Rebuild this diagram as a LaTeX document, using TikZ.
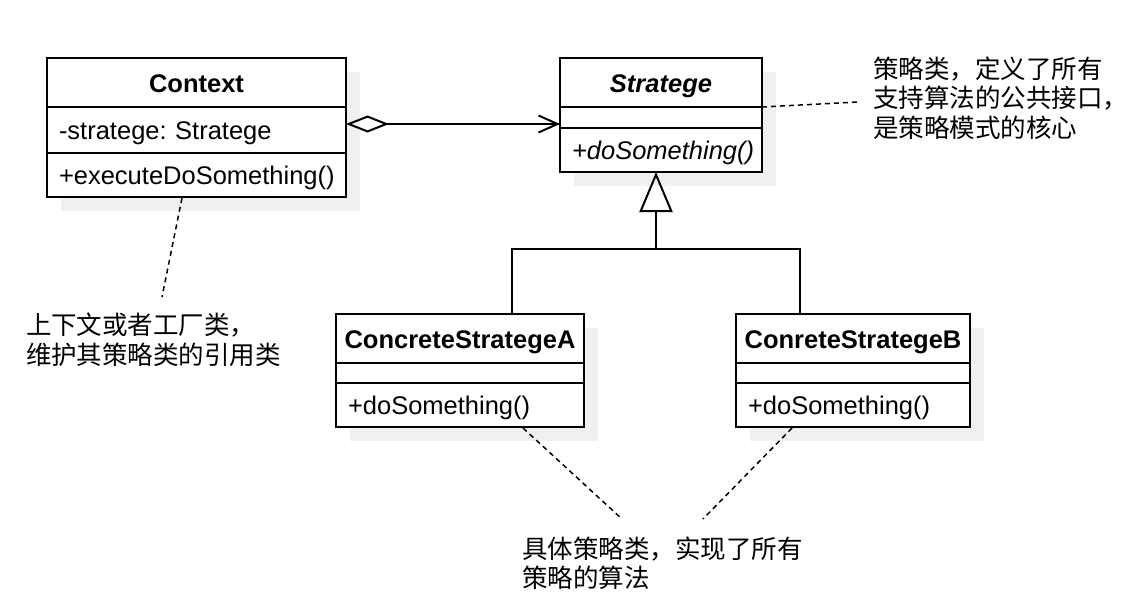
\documentclass[tikz,border=0pt]{standalone}
\usepackage{fontspec}
\setmainfont{Liberation Sans}
\newfontfamily\cjk{Noto Sans CJK SC}
\usetikzlibrary{arrows.meta}
\newcommand\fs{\fontsize{25.5pt}{29.5pt}\selectfont}
\frenchspacing
\begin{document}
\begin{tikzpicture}[x=1pt,y=-1pt,
  every node/.style={inner sep=0pt, outer sep=0pt},
  cell/.style={draw, line width=2pt, fill=white, anchor=north west, font=\fs},
  tcell/.style={cell, text height=25pt, text depth=5pt},
  lcell/.style={cell, align=left, inner xsep=12pt, text height=24pt, text depth=5pt},
  shadowbox/.style={fill=black!6},
  uml/.style={line width=2pt},
  notelink/.style={line width=1.5pt, dash pattern=on 5pt off 4pt},
  note/.style={font=\fs\cjk, align=left, anchor=west}]
\useasboundingbox (0,0) rectangle (1136,616);
% shadows
\fill[shadowbox] (61,72) rectangle (360,211);
\fill[shadowbox] (574,72) rectangle (776,186);
\fill[shadowbox] (350,328) rectangle (598,441);
\fill[shadowbox] (750,328) rectangle (984,441);
% Context
\node[tcell, minimum width=299pt, minimum height=49pt] (ctxT) at (47,58) {\bfseries Context};
\node[lcell, text width=275pt, minimum height=46pt] (ctxA) at (47,107) {-stratege: Stratege};
\node[lcell, text width=275pt, minimum height=44pt] (ctxM) at (47,153) {+executeDoSomething()};
% Stratege
\node[tcell, minimum width=202pt, minimum height=49pt] (stT) at (560,58) {\bfseries\itshape Stratege};
\node[cell, minimum width=202pt, minimum height=21pt] (stA) at (560,107) {};
\node[lcell, text width=178pt, minimum height=44pt] (stM) at (560,128) {\itshape +doSomething()};
% ConcreteStrategeA
\node[tcell, minimum width=248pt, minimum height=49pt] (aT) at (336,314) {\bfseries ConcreteStrategeA};
\node[cell, minimum width=248pt, minimum height=20pt] (aA) at (336,363) {};
\node[lcell, text width=224pt, minimum height=44pt] (aM) at (336,383) {+doSomething()};
% ConreteStrategeB
\node[tcell, minimum width=234pt, minimum height=49pt] (bT) at (736,314) {\bfseries ConreteStrategeB};
\node[cell, minimum width=234pt, minimum height=20pt] (bA) at (736,363) {};
\node[lcell, text width=210pt, minimum height=44pt] (bM) at (736,383) {+doSomething()};
% aggregation
\coordinate (agg) at (346,124);
\draw[uml, {Diamond[open,length=43pt,width=17pt]}-{Straight Barb[length=19pt,width=17pt]}] (agg) -- (agg -| stA.west);
% generalization
\coordinate (j) at (656,249);
\coordinate (ain) at (512,314);
\coordinate (bin) at (800,314);
\draw[uml] (ain) |- (j) -| (bin);
\draw[uml, -{Triangle[open,length=40pt,width=33pt]}] (j) -- (j |- stM.south);
% notes
\node[note] (nR) at (873,98) {策略类，定义了所有\\支持算法的公共接口，\\是策略模式的核心};
\node[note] (nL) at (26,340) {上下文或者工厂类，\\维护其策略类的引用类};
\node[note] (nB) at (522,563) {具体策略类，实现了所有\\策略的算法};
% note links
\coordinate (r1) at (858,102);
\coordinate (l1) at (182,198);
\coordinate (l2) at (162,297);
\coordinate (ba1) at (523,428);
\coordinate (ba2) at (622,519);
\coordinate (bb1) at (792,428);
\coordinate (bb2) at (703,519);
\draw[notelink] (stA.north east) -- (r1);
\draw[notelink] (l1) -- (l2);
\draw[notelink] (ba1) -- (ba2);
\draw[notelink] (bb1) -- (bb2);
\end{tikzpicture}
\end{document}
